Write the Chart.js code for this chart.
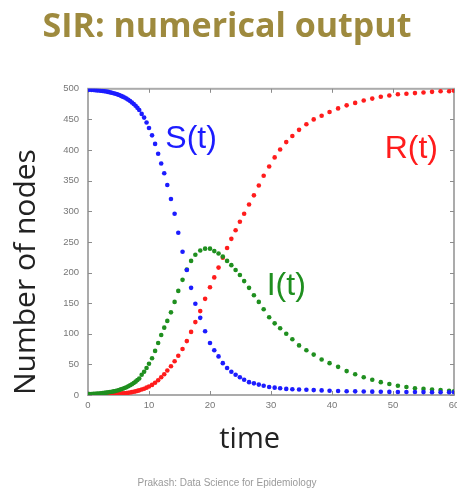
<!DOCTYPE html>
<html>
<head>
<meta charset="utf-8">
<script src="https://cdn.jsdelivr.net/npm/chart.js@4.4.1/dist/chart.umd.min.js"></script>
<style>
  html, body { margin: 0; padding: 0; background: #fff; }
  #wrap { width: 457px; height: 493px; }
</style>
</head>
<body>
<div id="wrap"><canvas id="sirChart" width="457" height="493"></canvas></div>
<script>
// time points of the solver output (same for the three curves)
const timePoints = [0, 0.3, 0.6, 0.9, 1.2, 1.5, 1.8, 2.1, 2.4, 2.7, 3.0, 3.3, 3.6, 3.9, 4.2, 4.5, 4.8, 5.1, 5.4, 5.7,
  6.0, 6.3, 6.6, 6.9, 7.2, 7.5, 7.8, 8.1, 8.4, 8.8, 9.2, 9.6, 10.0, 10.5, 11.0, 11.5, 12.0, 12.5, 13.0, 13.6,
  14.2, 14.8, 15.5, 16.2, 16.9, 17.6, 18.4, 19.2, 20.0, 20.7, 21.4, 22.1, 22.8, 23.5, 24.2, 24.9, 25.6, 26.4, 27.2, 28.0,
  28.8, 29.7, 30.6, 31.5, 32.5, 33.5, 34.6, 35.8, 37.0, 38.3, 39.6, 41.0, 42.4, 43.8, 45.2, 46.6, 48.0, 49.4, 50.8, 52.2,
  53.6, 55.0, 56.4, 57.8, 59.2, 60];

// S(t) susceptible
const susceptible = [498.7, 498.5, 498.3, 498.0, 497.8, 497.5, 497.2, 496.8, 496.4, 496.0, 495.5, 494.9, 494.2, 493.6, 492.8, 491.9, 490.9, 489.8, 488.5, 487.2,
  485.7, 484.0, 482.1, 480.0, 477.7, 475.1, 472.2, 468.9, 465.4, 459, 453, 445, 436, 424, 410, 394, 378, 362, 343, 320,
  296, 265, 234, 204, 175, 149, 126, 104, 85, 73, 63, 52, 44, 38, 33, 29, 25, 21, 19, 17,
  15, 13, 12, 11, 10, 9.5, 9, 8.5, 8, 7.5, 7, 6.5, 6.2, 6, 5.7, 5.5, 5.3, 5.1, 5, 4.9,
  4.8, 4.7, 4.6, 4.5, 4.4, 4.4];

// I(t) infected
const infected = [1.3, 1.45, 1.6, 1.8, 2.0, 2.2, 2.5, 2.8, 3.1, 3.4, 3.8, 4.3, 4.8, 5.3, 5.9, 6.6, 7.4, 8.2, 9.2, 10.2,
  11.4, 12.7, 14.2, 15.8, 17.6, 19.6, 21.8, 24.3, 27, 33, 38, 44, 51, 60, 72, 85, 98, 110, 121, 135,
  152, 170, 188, 205, 219, 229, 236, 239, 239, 235, 231, 226, 219, 212, 204, 196, 186, 175, 163, 152,
  140, 127, 117, 109, 100, 91, 81, 73, 66, 58, 52, 46, 39, 34, 29, 25, 21, 18, 15, 13,
  11, 10, 9, 8, 7, 6];

// R(t) recovered
const recovered = [0, 0.05, 0.1, 0.15, 0.2, 0.3, 0.35, 0.45, 0.5, 0.6, 0.7, 0.85, 1.0, 1.1, 1.3, 1.5, 1.7, 2.0, 2.3, 2.6,
  2.9, 3.3, 3.7, 4.2, 4.7, 5.3, 6.0, 6.8, 7.6, 8.9, 10.3, 12, 14, 16.5, 20, 24, 29, 34, 40, 47,
  55, 64, 75, 88, 103, 119, 137, 157, 176, 192, 208, 224, 240, 255, 269, 283, 296, 311, 326, 342,
  358, 373, 388, 401, 413, 423, 433, 442, 450, 456, 462, 468, 473, 477, 481, 484, 487, 489, 491, 492,
  493, 494, 495, 496, 496, 497];

const seriesNames = ['S(t)', 'I(t)', 'R(t)'];
const seriesColors = ['#1c1cff', '#1f8f1f', '#ff1c1c'];
// where each curve name sits, in data units (time, nodes)
const namePosT = [16.9, 32.5, 53];
const namePosN = [418, 178, 401];

const xTicks = [0, 10, 20, 30, 40, 50, 60];
const yTicks = [0, 50, 100, 150, 200, 250, 300, 350, 400, 450, 500];

// turn a list of values into {x, y} points
let toPoints = (values) => values.map((v, i) => ({ x: timePoints[i], y: v }));

// frame, inward ticks, curve names and the x label
const decorPlugin = {
  id: 'decor',
  beforeDatasetsDraw(chart) {
    const ctx = chart.ctx;
    const area = chart.chartArea;
    const xs = chart.scales.x;
    const ys = chart.scales.y;
    ctx.save();
    ctx.strokeStyle = '#ababab';
    ctx.lineWidth = 2;
    ctx.strokeRect(area.left, area.top, area.right - area.left, area.bottom - area.top);
    ctx.lineWidth = 1;
    ctx.strokeStyle = '#8c8c8c';
    ctx.beginPath();
    xTicks.forEach(t => {
      let px = Math.round(xs.getPixelForValue(t)) + 0.5;
      ctx.moveTo(px, area.bottom);
      ctx.lineTo(px, area.bottom - 4);
      ctx.moveTo(px, area.top);
      ctx.lineTo(px, area.top + 4);
    });
    yTicks.forEach(v => {
      let py = Math.round(ys.getPixelForValue(v)) + 0.5;
      ctx.moveTo(area.left, py);
      ctx.lineTo(area.left + 4, py);
      ctx.moveTo(area.right, py);
      ctx.lineTo(area.right - 4, py);
    });
    ctx.stroke();
    ctx.restore();
  },
  afterDatasetsDraw(chart) {
    const ctx = chart.ctx;
    const xs = chart.scales.x;
    const ys = chart.scales.y;
    ctx.save();
    ctx.textAlign = 'center';
    ctx.textBaseline = 'middle';
    ctx.font = '32px "Liberation Sans", Arial, sans-serif';
    seriesNames.forEach((name, i) => {
      ctx.fillStyle = seriesColors[i];
      ctx.fillText(name, xs.getPixelForValue(namePosT[i]), ys.getPixelForValue(namePosN[i]));
    });
    // x axis label
    ctx.fillStyle = '#222';
    ctx.font = '29px "Open Sans", sans-serif';
    ctx.fillText('time', xs.getPixelForValue(26.5), 440);
    ctx.restore();
  }
};

new Chart(document.getElementById('sirChart'), {
  type: 'scatter',
  data: {
    datasets: [susceptible, infected, recovered].map((vals, i) => ({
      label: seriesNames[i],
      data: toPoints(vals),
      backgroundColor: seriesColors[i],
      borderWidth: 0,
      pointRadius: 2.3,
      pointHoverRadius: 2.3
    }))
  },
  options: {
    responsive: false,
    animation: false,
    layout: { padding: { left: 0, right: 3, top: 0, bottom: 0 } },
    plugins: {
      legend: { display: false },
      tooltip: { enabled: false },
      title: {
        display: true,
        text: 'SIR: numerical output',
        color: '#9e8a3e',
        font: { family: '"Open Sans", sans-serif', size: 34, weight: 'bold' },
        padding: { top: 7, bottom: 41 }
      },
      subtitle: {
        display: true,
        position: 'bottom',
        text: 'Prakash: Data Science for Epidemiology',
        color: '#9a9a9a',
        font: { family: '"Liberation Sans", Arial, sans-serif', size: 10 },
        padding: { top: 0, bottom: 4 }
      }
    },
    scales: {
      x: {
        type: 'linear',
        min: 0,
        max: 60,
        afterBuildTicks: (scale) => { scale.ticks = xTicks.map(v => ({ value: v })); },
        afterFit: (scale) => { scale.height = 82; scale.paddingLeft = 0; scale.paddingRight = 0; },
        grid: { display: false, drawTicks: false },
        border: { display: false },
        ticks: { color: '#777', font: { family: '"Liberation Sans", Arial', size: 9.5 }, padding: 5, maxRotation: 0 },
        title: { display: false }
      },
      y: {
        type: 'linear',
        min: 0,
        max: 500,
        afterBuildTicks: (scale) => { scale.ticks = yTicks.map(v => ({ value: v })); },
        afterFit: (scale) => { scale.width = 88; scale.paddingTop = 0; scale.paddingBottom = 0; },
        grid: { display: false, drawTicks: false },
        border: { display: false },
        ticks: { color: '#777', font: { family: '"Liberation Sans", Arial', size: 9.5 }, padding: 9 },
        title: {
          display: true,
          text: 'Number of nodes',
          align: 'start',
          color: '#222',
          font: { family: '"Open Sans", sans-serif', size: 30 },
          padding: { top: 8, bottom: 0 }
        }
      }
    }
  },
  plugins: [decorPlugin]
});
</script>
</body>
</html>
